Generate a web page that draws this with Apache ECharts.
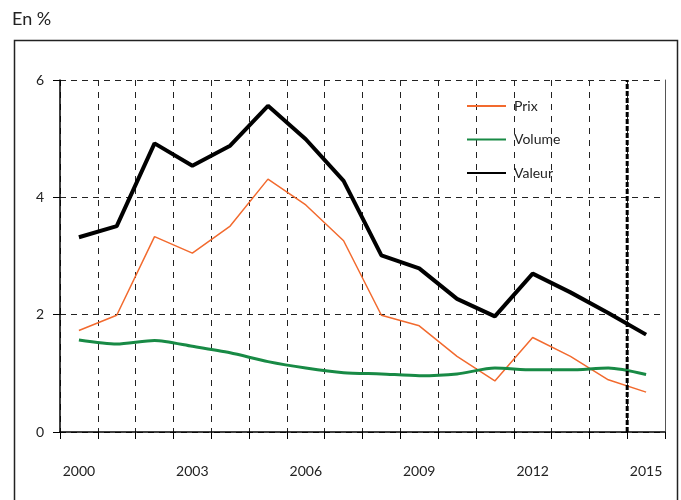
<!DOCTYPE html>
<html>
<head>
<meta charset="utf-8">
<script src="https://cdn.jsdelivr.net/npm/echarts@6/dist/echarts.min.js"></script>
<style>
  html, body { margin: 0; padding: 0; background: #fff; }
  #chart { width: 681px; height: 500px; }
</style>
</head>
<body>
<div id="chart"></div>
<script>
// données
const years = ['2000', '2001', '2002', '2003', '2004', '2005', '2006', '2007',
               '2008', '2009', '2010', '2011', '2012', '2013', '2014', '2015'];
const prix   = [1.73, 1.99, 3.33, 3.05, 3.51, 4.31, 3.87, 3.26, 1.99, 1.81, 1.29, 0.87, 1.61, 1.29, 0.89, 0.68];
const volume = [1.57, 1.50, 1.56, 1.46, 1.35, 1.20, 1.09, 1.01, 0.99, 0.96, 0.99, 1.09, 1.06, 1.06, 1.09, 0.98];
const valeur = [3.32, 3.51, 4.92, 4.54, 4.88, 5.56, 4.99, 4.28, 3.01, 2.79, 2.27, 1.97, 2.70, 2.38, 2.03, 1.66];
// ligne verticale (début de prévision), en position de bande
const forecastLine = [[15, 0], [15, 6]];

const chart = echarts.init(document.getElementById('chart'), null, { renderer: 'canvas' });
const font = 'Lato, "Open Sans", sans-serif';

const option = {
    backgroundColor: '#fff',
    animation: false,
    textStyle: { fontFamily: font },
    graphic: [{
        type: 'rect',
        left: 12, top: 38,
        shape: { width: 663, height: 480 },
        style: { fill: 'none', stroke: '#222', lineWidth: 1.5 },
        silent: true
    }],
    title: {
        text: 'En %',
        left: 7, top: 5,
        textStyle: { fontFamily: font, fontSize: 18, fontWeight: 'normal', color: '#222' }
    },
    legend: {
        data: ['Prix', 'Volume', 'Valeur'],
        orient: 'vertical',
        left: 461, top: 94,
        itemWidth: 39, itemHeight: 14, itemGap: 19.5,
        itemStyle: { opacity: 0 },
        textStyle: { fontFamily: font, fontSize: 14, color: '#222', padding: [0, 0, 0, 3] }
    },
    grid: { left: 60, right: 16, top: 80, bottom: 68 },
    xAxis: [{
        type: 'category',
        data: years,
        boundaryGap: true,
        axisLine: { lineStyle: { color: '#000', width: 1.5 } },
        axisTick: { show: true, interval: 0, length: 7, lineStyle: { color: '#000' } },
        axisLabel: { interval: 2, margin: 32, fontFamily: font, fontSize: 14, color: '#222' },
        splitLine: { show: true, interval: 0, lineStyle: { color: '#222', type: [6, 6], width: 1 } }
    }, {
        type: 'value',
        min: 0, max: 16,
        show: false
    }],
    yAxis: [{
        type: 'value',
        min: 0, max: 6, interval: 2,
        axisLine: { show: true, lineStyle: { color: '#000', width: 1.5 } },
        axisTick: { show: true, length: 7, lineStyle: { color: '#000' } },
        axisLabel: { margin: 16, fontFamily: font, fontSize: 14, color: '#222' },
        splitLine: { show: true, lineStyle: { color: '#222', type: [6, 5], width: 1 } }
    }, {
        type: 'value',
        min: 0, max: 6, interval: 2,
        position: 'right',
        axisLine: { show: true, lineStyle: { color: '#555', width: 1 } },
        axisTick: { show: false },
        axisLabel: { show: false },
        splitLine: { show: false }
    }],
    series: [{
        name: 'Prix',
        type: 'line',
        data: prix,
        symbol: 'none',
        lineStyle: { color: '#f26a2e', width: 1.5 },
        itemStyle: { color: '#f26a2e' },
        z: 3
    }, {
        name: 'Volume',
        type: 'line',
        data: volume,
        symbol: 'none',
        smooth: 0.25,
        lineStyle: { color: '#188a45', width: 3 },
        itemStyle: { color: '#188a45' },
        z: 4
    }, {
        name: 'Valeur',
        type: 'line',
        data: valeur,
        symbol: 'none',
        lineStyle: { color: '#000', width: 4 },
        itemStyle: { color: '#000' },
        z: 5
    }, {
        name: 'forecast',
        type: 'line',
        xAxisIndex: 1,
        data: forecastLine,
        symbol: 'none',
        lineStyle: { color: '#000', width: 3, type: [5, 2] },
        z: 6,
        silent: true
    }]
};

chart.setOption(option);
</script>
</body>
</html>
